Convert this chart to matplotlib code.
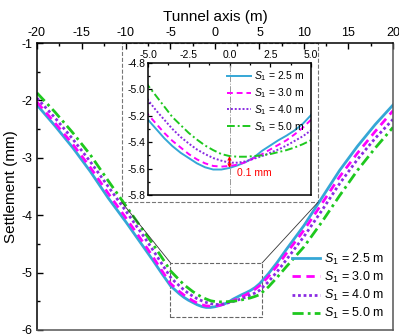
import matplotlib
matplotlib.use('Agg')
import matplotlib.pyplot as plt
from matplotlib.patches import Rectangle
from matplotlib.ticker import MultipleLocator

plt.rcParams['font.family'] = ['Liberation Sans', 'DejaVu Sans']
plt.rcParams['mathtext.fontset'] = 'custom'
plt.rcParams['mathtext.rm'] = 'Liberation Sans'
plt.rcParams['mathtext.it'] = 'Liberation Sans:italic'
plt.rcParams['axes.unicode_minus'] = False

# distance along the tunnel axis (m)
x_pos = [-20, -18, -16, -14, -12, -10, -8, -7, -6, -5,
         -4.5, -4, -3.5, -3, -2.5, -2, -1.5, -1, -0.5, 0,
         0.5, 1, 1.5, 2, 2.5, 3, 3.5, 4, 4.5, 5,
         6, 7, 8, 10, 12, 14, 16, 18, 20]

# settlement (mm) for each spacing S1
s_25 = [-2.08, -2.44, -2.82, -3.24, -3.70, -4.12, -4.56, -4.78, -5.01, -5.23,
        -5.30, -5.37, -5.43, -5.48, -5.52, -5.56, -5.59, -5.607, -5.607, -5.595,
        -5.575, -5.55, -5.515, -5.465, -5.425, -5.385, -5.35, -5.31, -5.26, -5.195,
        -5.02, -4.82, -4.60, -4.18, -3.70, -3.22, -2.80, -2.42, -2.08]
s_30 = [-2.03, -2.39, -2.76, -3.17, -3.62, -4.05, -4.49, -4.72, -4.96, -5.19,
        -5.26, -5.33, -5.39, -5.44, -5.49, -5.53, -5.56, -5.58, -5.585, -5.58,
        -5.57, -5.55, -5.52, -5.49, -5.455, -5.42, -5.385, -5.34, -5.29, -5.23,
        -5.07, -4.88, -4.67, -4.26, -3.80, -3.33, -2.92, -2.54, -2.18]
s_40 = [-1.96, -2.30, -2.67, -3.07, -3.50, -3.93, -4.37, -4.60, -4.84, -5.08,
        -5.16, -5.23, -5.30, -5.36, -5.41, -5.455, -5.49, -5.52, -5.54, -5.555,
        -5.555, -5.545, -5.525, -5.505, -5.48, -5.455, -5.425, -5.39, -5.355, -5.31,
        -5.16, -4.98, -4.78, -4.37, -3.92, -3.45, -3.03, -2.66, -2.33]
s_50 = [-1.87, -2.20, -2.56, -2.95, -3.40, -3.84, -4.28, -4.50, -4.73, -4.97,
        -5.05, -5.13, -5.21, -5.27, -5.33, -5.38, -5.425, -5.46, -5.49, -5.505,
        -5.51, -5.51, -5.505, -5.50, -5.49, -5.475, -5.46, -5.44, -5.415, -5.385,
        -5.25, -5.08, -4.90, -4.55, -4.12, -3.66, -3.22, -2.83, -2.47]

labels = ['$S_1$ = 2.5 m', '$S_1$ = 3.0 m', '$S_1$ = 4.0 m', '$S_1$ = 5.0 m']

# zoomed window and the dashed frame around the inset (data units of main axes)
zoom_x = [-5.0, 5.3]
zoom_y = [-5.77, -4.83]
frame_x = [-10.5, 11.6]
frame_y = [-3.77, -1.0]

styles = [
    dict(color='#35a7d6', ls='-'),
    dict(color='#ff00ff', ls=(0, (3, 2))),
    dict(color='#8a2be2', ls=(0, (1, 1))),
    dict(color='#1ec81e', ls=(0, (4, 1.5, 1, 1.5))),
]
series = [s_25, s_30, s_40, s_50]

fig = plt.figure(figsize=(3.99, 3.34), dpi=100)
ax = fig.add_axes([37 / 399, 4 / 334, 356 / 399, 287 / 334])

for ys, st, lab in zip(series, styles, labels):
    ax.plot(x_pos, ys, lw=2, label=lab, **st)

ax.set_xlim(-20, 20)
ax.set_ylim(-6, -1)
ax.xaxis.set_major_locator(MultipleLocator(5))
ax.xaxis.set_minor_locator(MultipleLocator(2.5))
ax.yaxis.set_major_locator(MultipleLocator(1))
ax.yaxis.set_minor_locator(MultipleLocator(0.5))
ax.tick_params(axis='x', which='both', direction='in', top=True, bottom=False,
               labeltop=True, labelbottom=False, labelsize=9, pad=3)
ax.tick_params(axis='y', which='both', direction='in', left=True, right=False,
               labelsize=9)
ax.tick_params(which='major', length=4, width=1)
ax.tick_params(which='minor', length=2, width=1)
ax.xaxis.set_label_position('top')
ax.set_xlabel('Tunnel axis (m)', fontsize=11, labelpad=4)
ax.set_ylabel('Settlement (mm)', fontsize=11, labelpad=2)
for sp in ax.spines.values():
    sp.set_linewidth(1.1)
ax.spines['bottom'].set_color('#555555')
ax.spines['right'].set_color('#555555')

ax.legend(loc='lower right', fontsize=9, frameon=False, handlelength=2.3,
          labelspacing=0.25, handletextpad=0.3, borderaxespad=0.3)

# zoom window, inset frame and connectors
ax.add_patch(Rectangle((zoom_x[0], zoom_y[0]), zoom_x[1] - zoom_x[0],
                       zoom_y[1] - zoom_y[0], fill=False, ec='#666666',
                       ls='--', lw=0.8))
ax.add_patch(Rectangle((frame_x[0], frame_y[0]), frame_x[1] - frame_x[0],
                       frame_y[1] - frame_y[0], fill=False, ec='#777777',
                       ls='--', lw=0.8, clip_on=False))
ax.plot([zoom_x[0], frame_x[0]], [zoom_y[1], frame_y[0]], color='#333333', lw=0.6)
ax.plot([zoom_x[1], frame_x[1]], [zoom_y[1], frame_y[0]], color='#333333', lw=0.6)

# inset
ins = fig.add_axes([148 / 399, 139 / 334, 163 / 399, 132 / 334])
for ys, st, lab in zip(series, styles, labels):
    ins.plot(x_pos, ys, lw=1.4, label=lab, **st)
ins.axvline(0, color='#999999', lw=0.7, ls='-.')

i0 = x_pos.index(0)
ins.annotate('', xy=(0, s_25[i0]), xytext=(0, s_50[i0]),
             arrowprops=dict(arrowstyle='<->', color='red', lw=0.9,
                             mutation_scale=5, shrinkA=0, shrinkB=0))
ins.text(0.45, -5.635, '0.1 mm', color='red', fontsize=7.5, va='center')

ins.set_xlim(-5, 5)
ins.set_ylim(-5.8, -4.8)
ins.xaxis.set_major_locator(MultipleLocator(2.5))
ins.xaxis.set_minor_locator(MultipleLocator(1.25))
ins.yaxis.set_major_locator(MultipleLocator(0.2))
ins.yaxis.set_minor_locator(MultipleLocator(0.1))
ins.xaxis.set_major_formatter('{x:.1f}')
ins.yaxis.set_major_formatter('{x:.1f}')
ins.tick_params(axis='x', which='both', direction='in', top=True, bottom=False,
                labeltop=True, labelbottom=False, labelsize=7.5, pad=2)
ins.tick_params(axis='y', which='both', direction='in', left=True, right=False,
                labelsize=7.5, pad=2)
ins.tick_params(which='major', length=3, width=0.9)
ins.tick_params(which='minor', length=1.5, width=0.9)
for sp in ins.spines.values():
    sp.set_linewidth(1.1)

ins.legend(loc='upper right', fontsize=7.5, frameon=False, handlelength=2.3,
           labelspacing=0.3, handletextpad=0.3, borderaxespad=0.2)

fig.savefig('out.png', dpi=100)
